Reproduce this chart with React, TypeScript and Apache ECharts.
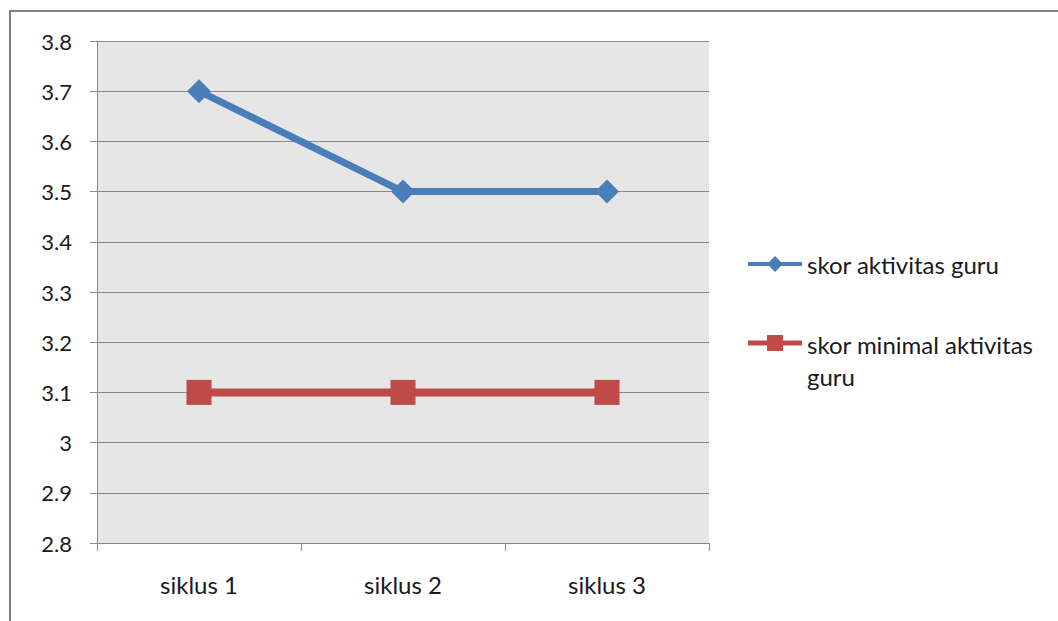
import React, { useEffect, useRef } from "react";
import * as echarts from "echarts";

// Chart data
const categories = ["siklus 1", "siklus 2", "siklus 3"];
const skorAktivitasGuru = [3.7, 3.5, 3.5];
const skorMinimalAktivitasGuru = [3.1, 3.1, 3.1];
const seriesNames = ["skor aktivitas guru", "skor minimal aktivitas guru"];
const yMin = 2.8;
const yMax = 3.8;
const yStep = 0.1;

const BLUE = "#4A7EBB";
const RED = "#BE4B48";
const GRID_GRAY = "#8A8A8A";
const FONT = "Lato, 'Open Sans', sans-serif";
const TEXT_COLOR = "#1a1a1a";

export default function App() {
  const ref = useRef<HTMLDivElement>(null);

  useEffect(() => {
    if (!ref.current) return;
    const chart = echarts.init(ref.current, undefined, { renderer: "svg" });

    const legendTextStyle = {
      fontFamily: FONT,
      fontSize: 24,
      fill: TEXT_COLOR,
      lineHeight: 32,
    };

    chart.setOption({
      animation: false,
      backgroundColor: "#ffffff",
      textStyle: { fontFamily: FONT },
      grid: {
        left: 97,
        top: 41,
        width: 612,
        height: 502,
        show: true,
        backgroundColor: "#E6E6E6",
        borderWidth: 0,
      },
      xAxis: {
        type: "category",
        data: categories,
        boundaryGap: true,
        axisLine: { show: true, lineStyle: { color: GRID_GRAY, width: 1 } },
        axisTick: { show: true, length: 8, lineStyle: { color: GRID_GRAY } },
        axisLabel: {
          margin: 29,
          fontSize: 24,
          fontFamily: FONT,
          color: TEXT_COLOR,
        },
        splitLine: { show: false },
      },
      yAxis: {
        type: "value",
        min: yMin,
        max: yMax,
        interval: yStep,
        axisLine: { show: true, lineStyle: { color: GRID_GRAY, width: 1 } },
        axisTick: { show: true, length: 7, lineStyle: { color: GRID_GRAY } },
        axisLabel: {
          margin: 25,
          fontSize: 22,
          fontFamily: FONT,
          color: TEXT_COLOR,
          formatter: (v: number) => String(Math.round(v * 10) / 10),
        },
        splitLine: { show: true, lineStyle: { color: GRID_GRAY, width: 1 } },
      },
      series: [
        {
          name: seriesNames[0],
          type: "line",
          data: skorAktivitasGuru,
          symbol: "diamond",
          symbolSize: 24,
          lineStyle: { color: BLUE, width: 7 },
          itemStyle: { color: BLUE },
          z: 3,
        },
        {
          name: seriesNames[1],
          type: "line",
          data: skorMinimalAktivitasGuru,
          symbol: "rect",
          symbolSize: 25,
          lineStyle: { color: RED, width: 8 },
          itemStyle: { color: RED },
          z: 3,
        },
      ],
      graphic: [
        // outer chart frame
        {
          type: "rect",
          shape: { x: 10, y: 11, width: 1100, height: 700 },
          style: { fill: "none", stroke: "#7F7F7F", lineWidth: 2 },
          silent: true,
        },
        // legend entry 1
        {
          type: "line",
          shape: { x1: 748, y1: 264, x2: 802, y2: 264 },
          style: { stroke: BLUE, lineWidth: 4 },
        },
        {
          type: "polygon",
          shape: { points: [[775, 256], [783, 264], [775, 272], [767, 264]] },
          style: { fill: BLUE },
        },
        {
          type: "text",
          x: 807,
          y: 264,
          style: {
            ...legendTextStyle,
            text: seriesNames[0],
            verticalAlign: "middle",
          },
        },
        // legend entry 2
        {
          type: "line",
          shape: { x1: 748, y1: 343, x2: 802, y2: 343 },
          style: { stroke: RED, lineWidth: 5 },
        },
        {
          type: "rect",
          shape: { x: 767, y: 335, width: 16, height: 16 },
          style: { fill: RED },
        },
        {
          type: "text",
          x: 807,
          y: 328,
          style: {
            ...legendTextStyle,
            text: "skor minimal aktivitas\nguru",
            verticalAlign: "top",
          },
        },
      ],
    });

    return () => chart.dispose();
  }, []);

  return (
    <div
      ref={ref}
      style={{ position: "fixed", left: 0, top: 0, width: 1058, height: 621 }}
    />
  );
}
